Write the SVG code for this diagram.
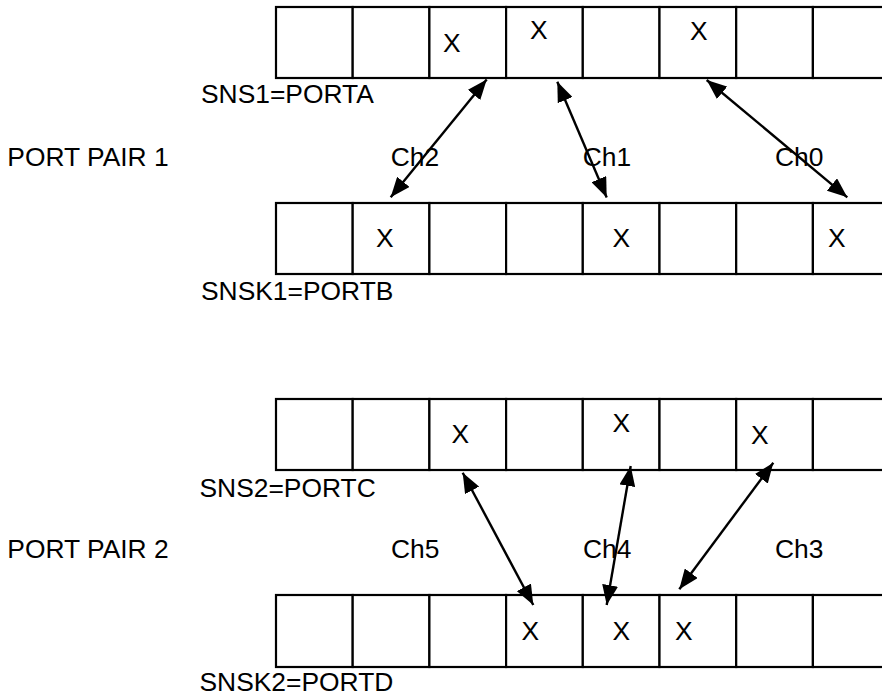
<svg xmlns="http://www.w3.org/2000/svg" width="882" height="696" viewBox="0 0 882 696">
<defs>
<style>
.cell{fill:#fff;stroke:#000;stroke-width:2.2}
text{font-family:"Liberation Sans",Arial,sans-serif;font-size:26.4px;fill:#000}
.conn{stroke:#000;stroke-width:2.4;fill:none;marker-start:url(#ah);marker-end:url(#ah)}
</style>
<marker id="ah" viewBox="0 0 20 16" refX="20" refY="8" markerWidth="20" markerHeight="16" markerUnits="userSpaceOnUse" orient="auto-start-reverse">
<path d="M0,0 L20,8 L0,16 z" fill="#000"/>
</marker>
</defs>
<rect width="882" height="696" fill="#fff"/>

<g id="sns1">
<rect class="cell" x="276" y="7" width="76.7" height="71"/>
<rect class="cell" x="352.7" y="7" width="76.7" height="71"/>
<rect class="cell" x="429.4" y="7" width="76.7" height="71"/>
<rect class="cell" x="506.1" y="7" width="76.7" height="71"/>
<rect class="cell" x="582.8" y="7" width="76.7" height="71"/>
<rect class="cell" x="659.5" y="7" width="76.7" height="71"/>
<rect class="cell" x="736.2" y="7" width="76.7" height="71"/>
<rect class="cell" x="812.9" y="7" width="76.7" height="71"/>
<text x="443" y="52">X</text>
<text x="530" y="39">X</text>
<text x="690" y="40">X</text>
<text x="201" y="103">SNS1=PORTA</text>
</g>

<g id="snsk1">
<rect class="cell" x="276" y="203" width="76.7" height="71"/>
<rect class="cell" x="352.7" y="203" width="76.7" height="71"/>
<rect class="cell" x="429.4" y="203" width="76.7" height="71"/>
<rect class="cell" x="506.1" y="203" width="76.7" height="71"/>
<rect class="cell" x="582.8" y="203" width="76.7" height="71"/>
<rect class="cell" x="659.5" y="203" width="76.7" height="71"/>
<rect class="cell" x="736.2" y="203" width="76.7" height="71"/>
<rect class="cell" x="812.9" y="203" width="76.7" height="71"/>
<text x="376" y="247">X</text>
<text x="612.5" y="247">X</text>
<text x="828" y="247">X</text>
<text x="201" y="300">SNSK1=PORTB</text>
</g>

<g id="sns2">
<rect class="cell" x="276" y="399" width="76.7" height="71"/>
<rect class="cell" x="352.7" y="399" width="76.7" height="71"/>
<rect class="cell" x="429.4" y="399" width="76.7" height="71"/>
<rect class="cell" x="506.1" y="399" width="76.7" height="71"/>
<rect class="cell" x="582.8" y="399" width="76.7" height="71"/>
<rect class="cell" x="659.5" y="399" width="76.7" height="71"/>
<rect class="cell" x="736.2" y="399" width="76.7" height="71"/>
<rect class="cell" x="812.9" y="399" width="76.7" height="71"/>
<text x="451.5" y="443">X</text>
<text x="612.5" y="432">X</text>
<text x="751" y="444">X</text>
<text x="199.5" y="497">SNS2=PORTC</text>
</g>

<g id="snsk2">
<rect class="cell" x="276" y="595" width="76.7" height="72"/>
<rect class="cell" x="352.7" y="595" width="76.7" height="72"/>
<rect class="cell" x="429.4" y="595" width="76.7" height="72"/>
<rect class="cell" x="506.1" y="595" width="76.7" height="72"/>
<rect class="cell" x="582.8" y="595" width="76.7" height="72"/>
<rect class="cell" x="659.5" y="595" width="76.7" height="72"/>
<rect class="cell" x="736.2" y="595" width="76.7" height="72"/>
<rect class="cell" x="812.9" y="595" width="76.7" height="72"/>
<text x="521.5" y="640">X</text>
<text x="612.5" y="640">X</text>
<text x="675" y="640">X</text>
<text x="199.5" y="691">SNSK2=PORTD</text>
</g>

<g id="pair-labels">
<text x="7.3" y="166">PORT PAIR 1</text>
<text x="7.3" y="558">PORT PAIR 2</text>
</g>

<g id="connectors">
<line class="conn" x1="486.7" y1="79.5" x2="390.7" y2="197.3"/>
<line class="conn" x1="557.3" y1="81.7" x2="606.7" y2="197.5"/>
<line class="conn" x1="706.7" y1="80" x2="847.3" y2="197.3"/>
<line class="conn" x1="462.7" y1="472.7" x2="533.3" y2="605"/>
<line class="conn" x1="630.7" y1="466" x2="606.7" y2="605"/>
<line class="conn" x1="773.3" y1="462.7" x2="679.3" y2="589.3"/>
</g>

<g id="channel-labels">
<text x="390.7" y="166">Ch2</text>
<text x="582.7" y="166">Ch1</text>
<text x="775" y="166">Ch0</text>
<text x="391" y="558">Ch5</text>
<text x="583" y="558">Ch4</text>
<text x="775" y="558">Ch3</text>
</g>
</svg>
